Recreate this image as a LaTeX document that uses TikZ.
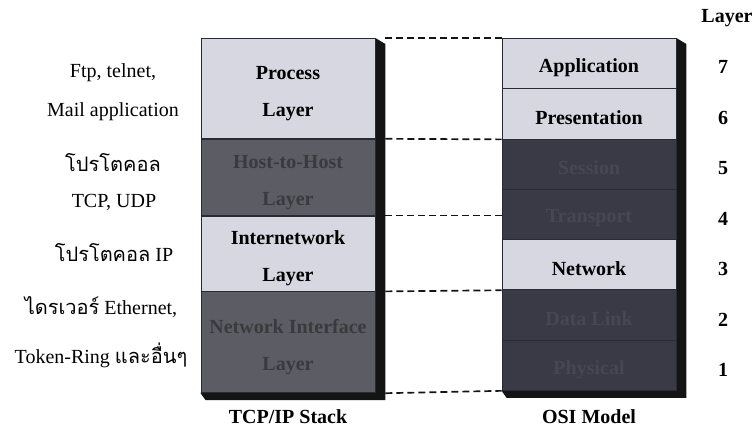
\documentclass[tikz,border=0pt]{standalone}
\usepackage{fontspec}
\setmainfont{Liberation Serif}
\newfontfamily\thaifont[Script=Thai]{Loma}
\usetikzlibrary{positioning,calc,backgrounds}
\definecolor{paper}{HTML}{D7D7E1}
\definecolor{dusk}{HTML}{5C5C64}
\definecolor{night}{HTML}{3A3A47}
\definecolor{inkdark}{HTML}{3A3A3E}
\definecolor{inknight}{HTML}{474754}
\definecolor{edge}{HTML}{2A2A34}
\definecolor{umbra}{HTML}{141414}

\begin{document}
\begin{tikzpicture}[x=1pt,y=-1pt,font=\fontsize{20}{37}\selectfont,
  row/.style={draw=edge,line width=0.8pt,inner sep=0pt},
  tcprow/.style={row,minimum width=174pt,anchor=north},
  osirow/.style={row,minimum width=174pt,minimum height=50.29pt,anchor=north},
  lightrow/.style={fill=paper},
  darkrow/.style={fill=dusk},
  nightrow/.style={fill=night},
  rowtext/.style={inner sep=0pt,align=center,font=\fontsize{20}{37}\selectfont\bfseries},
  side/.style={inner sep=0pt},
  tag/.style={inner sep=0pt,font=\fontsize{20}{24}\selectfont\bfseries},
  joint/.style={umbra,line width=1.7pt,dash pattern=on 7pt off 4pt}]
\useasboundingbox (0,0) rectangle (755,430);
% TCP/IP stack, four layers stacked top to bottom
\node[tcprow,lightrow,minimum height=100pt] (proc) at (288,38) {};
\node[tcprow,darkrow,minimum height=76pt,below=0pt of proc] (host) {};
\node[tcprow,lightrow,minimum height=75pt,below=0pt of host] (inet) {};
\node[tcprow,darkrow,minimum height=101pt,below=0pt of inet] (nif) {};
\node[rowtext] (tproc) at ([yshift=-5pt]proc.center) {Process\\Layer};
\node[rowtext,text=inkdark] (thost) at ([yshift=-5pt]host.center) {Host-to-Host\\Layer};
\node[rowtext] (tinet) at ([yshift=-5pt]inet.center) {Internetwork\\Layer};
\node[rowtext,text=inkdark] (tnif) at ([yshift=-5pt]nif.center) {Network Interface\\Layer};
% OSI model, seven layers
\foreach \nm/\txt/\sty/\ink [count=\i] in {app/Application/lightrow/black,
    pres/Presentation/lightrow/black,sess/Session/nightrow/inknight,
    trans/Transport/nightrow/inknight,net/Network/lightrow/black,
    link/Data Link/nightrow/inknight,phys/Physical/nightrow/inknight}{
  \node[osirow,\sty] (\nm) at (589,{38+50.29*(\i-1)}) {};
  \node[rowtext,text=\ink] (t\nm) at ([yshift=-4pt]\nm.center) {\txt};
}
% drop shadows behind both boxes
\begin{scope}[on background layer]
  \fill[umbra] (proc.north east) -- ++(10,6) -- ($(nif.south east)+(10,7)$)
     -- ($(nif.south west)+(5,7)$) -- (nif.south west) -- cycle;
  \fill[umbra] (app.north east) -- ++(10,6) -- ($(phys.south east)+(10,7)$)
     -- ($(phys.south west)+(5,7)$) -- (phys.south west) -- cycle;
\end{scope}
% dashed joins from stack to model
\draw[joint] ([xshift=10pt]proc.north east) -- (app.north west);
\draw[joint] ([xshift=10pt]proc.south east) -- (pres.south west);
\draw[joint] ([xshift=10pt]host.south east) -- (host.south east -| trans.west);
\draw[joint] ([xshift=10pt]inet.south east) -- (net.south west);
\draw[joint] ([xshift=10pt]nif.south east) -- (phys.south west);
% protocols on the left
\node[side] (lftp) at (113,73) {Ftp, telnet,};
\node[side] (lmail) at (113,112) {Mail application};
\node[side] (lproto) at (113,163) {\thaifont โปรโตคอล};
\node[side] (ltcp) at (114,202) {TCP, UDP};
\node[side] (lip) at (114,253) {{\thaifont โปรโตคอล} IP};
\node[side] (ldrv) at (101,307) {{\thaifont ไดรเวอร์} Ethernet,};
\node[side] (ltok) at (101,355) {Token-Ring {\thaifont และอื่นๆ}};
% layer numbers
\node[tag] (hdr) at (727,18) {Layer};
\foreach \n [count=\i] in {7,...,1}{
  \node[tag] (num\n) at (723,{67+50.5*(\i-1)}) {\n};
}
\node[tag] (captcp) at (288,417) {TCP/IP Stack};
\node[tag] (caposi) at (589,417) {OSI Model};
\end{tikzpicture}
\end{document}
